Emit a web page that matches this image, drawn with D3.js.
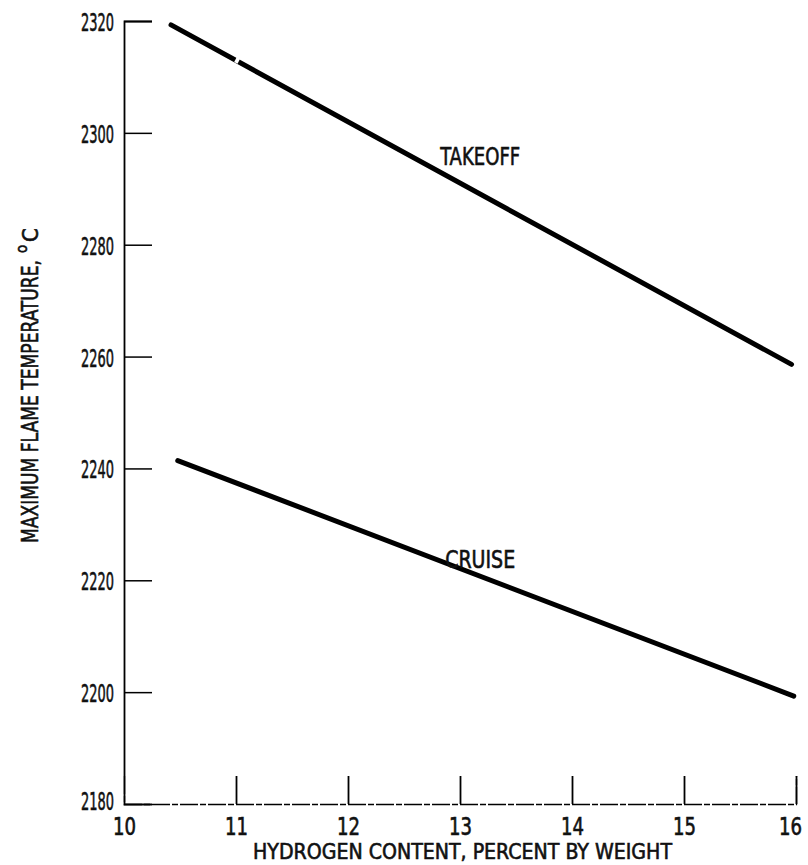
<!DOCTYPE html>
<html>
<head>
<meta charset="utf-8">
<script src="https://cdn.jsdelivr.net/npm/d3@7"></script>
<style>
  body { margin: 0; background: #fff; }
  text { font-family: "DejaVu Sans Condensed", "Liberation Sans", sans-serif; fill: #111; stroke: #111; stroke-width: 0.6px; }
</style>
</head>
<body>
<div id="chart"></div>
<script>
// --------------------------------------------------------
// DATA
// --------------------------------------------------------
const xTicks = [10, 11, 12, 13, 14, 15, 16];
const yTicks = [2180, 2200, 2220, 2240, 2260, 2280, 2300, 2320];

// endpoints of the two straight lines (hydrogen %, temperature)
const takeoffX = [10.42, 15.96];
const takeoffY = [2319.3, 2258.6];
const cruiseX = [10.48, 15.98];
const cruiseY = [2241.4, 2199.3];

const seriesNames = ["TAKEOFF", "CRUISE"];

// --------------------------------------------------------
// LAYOUT
// --------------------------------------------------------
const width = 808;
const height = 865;

const svg = d3
  .select("#chart")
  .append("svg")
  .attr("width", width)
  .attr("height", height);

const x = d3.scaleLinear().domain([10, 16]).range([124, 796]);
const y = d3.scaleLinear().domain([2180, 2320]).range([804, 21]);

// squeeze text to the narrow lettering of the original
function squeeze(sel, w) {
  sel.attr("textLength", w).attr("lengthAdjust", "spacingAndGlyphs");
}

// left axis, ticks pointing into the plot
const yAxis = d3.axisLeft(y).tickValues(yTicks).tickSize(-28).tickFormat(d3.format("d"));
const gy = svg.append("g").attr("transform", `translate(${x(10)},0)`).call(yAxis);
gy.select(".domain").attr("stroke-width", 1.8);
gy.selectAll(".tick line").attr("stroke-width", 1.5);
gy.selectAll(".tick").filter((d) => d === 2180).select("line").remove();
gy.selectAll(".tick text")
  .attr("x", -10)
  .attr("dy", (d) => (d === 2180 ? "0.2em" : "0.38em"))
  .attr("font-size", 25)
  .call(squeeze, 33);

// bottom axis, ticks pointing up
const xAxis = d3.axisBottom(x).tickValues(xTicks).tickSize(-28).tickFormat(d3.format("d"));
const gx = svg.append("g").attr("transform", `translate(0,${y(2180)})`).call(xAxis);
gx.select(".domain").attr("stroke-width", 1.3).attr("stroke-dasharray", "18,2,6,2");
gx.selectAll(".tick line").attr("stroke-width", 1.8);
gx.selectAll(".tick").filter((d) => d === 10).select("line").remove();
gx.selectAll(".tick text")
  .attr("x", (d) => (d === 16 ? -6 : 0))
  .attr("y", 31)
  .attr("dy", 0)
  .attr("font-size", 24)
  .call(squeeze, 23);

// --------------------------------------------------------
// LINES
// --------------------------------------------------------
const line = d3.line().x((d) => x(d[0])).y((d) => y(d[1]));
const series = [d3.zip(takeoffX, takeoffY), d3.zip(cruiseX, cruiseY)];

svg
  .append("g")
  .selectAll("path")
  .data(series)
  .join("path")
  .attr("d", line)
  .attr("fill", "none")
  .attr("stroke", "#000")
  .attr("stroke-width", 5)
  .attr("stroke-linecap", "round");

// small scan gap on the takeoff line
svg
  .append("line")
  .attr("x1", x(11.0))
  .attr("x2", x(11.03))
  .attr("y1", y(2313.3))
  .attr("y2", y(2313.0))
  .attr("stroke", "#fff")
  .attr("stroke-width", 8);

// series labels
const labelPos = [
  [13.18, 2294.3],
  [13.18, 2222.2],
];
const labelWidth = [80, 70];
svg
  .append("g")
  .selectAll("text")
  .data(seriesNames)
  .join("text")
  .attr("x", (d, i) => x(labelPos[i][0]))
  .attr("y", (d, i) => y(labelPos[i][1]))
  .attr("text-anchor", "middle")
  .attr("font-size", 24)
  .attr("textLength", (d, i) => labelWidth[i])
  .attr("lengthAdjust", "spacingAndGlyphs")
  .text((d) => d);

// --------------------------------------------------------
// AXIS TITLES
// --------------------------------------------------------
svg
  .append("text")
  .attr("x", 253)
  .attr("y", 859)
  .attr("font-size", 22)
  .attr("textLength", 419)
  .attr("lengthAdjust", "spacingAndGlyphs")
  .text("HYDROGEN CONTENT, PERCENT BY WEIGHT");

const yt = svg.append("g").attr("transform", "translate(38,0) rotate(-90)");
yt.append("text")
  .attr("x", -543)
  .attr("y", 0)
  .attr("font-size", 23)
  .attr("textLength", 283)
  .attr("lengthAdjust", "spacingAndGlyphs")
  .text("MAXIMUM FLAME TEMPERATURE,");
yt.append("text").attr("x", -253).attr("y", -11).attr("font-size", 15).text("o");
yt.append("text").attr("x", -242).attr("y", 0).attr("font-size", 22).text("C");
</script>
</body>
</html>
